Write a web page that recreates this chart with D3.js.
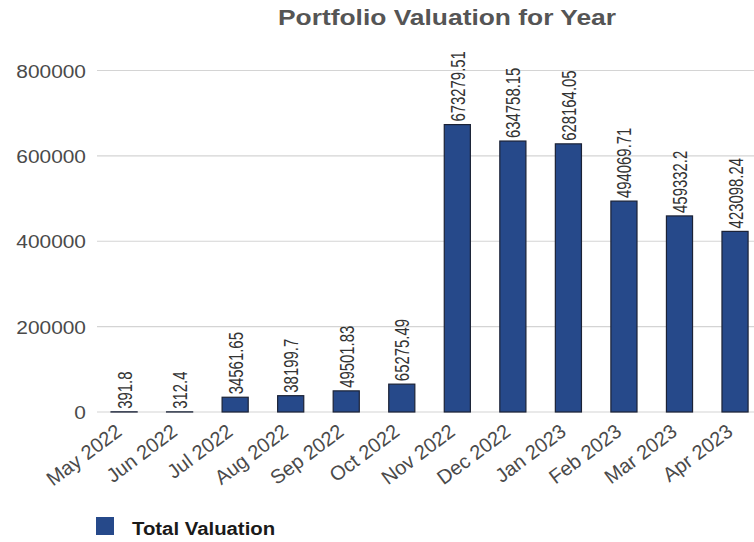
<!DOCTYPE html>
<html>
<head>
<meta charset="utf-8">
<script src="https://cdn.jsdelivr.net/npm/d3@7"></script>
<style>
  html, body { margin: 0; padding: 0; background: #fff; }
  svg { display: block; font-family: "Liberation Sans", Arial, sans-serif; }
</style>
</head>
<body>
<svg id="chart" width="754" height="542"></svg>
<script>
const categories = ["May 2022","Jun 2022","Jul 2022","Aug 2022","Sep 2022","Oct 2022","Nov 2022","Dec 2022","Jan 2023","Feb 2023","Mar 2023","Apr 2023"];
const values = [391.8, 312.4, 34561.65, 38199.7, 49501.83, 65275.49, 673279.51, 634758.15, 628164.05, 494069.71, 459332.2, 423098.24];
const valueLabels = ["391.8","312.4","34561.65","38199.7","49501.83","65275.49","673279.51","634758.15","628164.05","494069.71","459332.2","423098.24"];
const yTicks = [0, 200000, 400000, 600000, 800000];
const seriesName = "Total Valuation";
const chartTitle = "Portfolio Valuation for Year";

const svg = d3.select("#chart");

const x = d3.scaleBand()
  .domain(categories)
  .range([96.3, 762.8])
  .paddingInner(0.53)
  .paddingOuter(0.265);

const y = d3.scaleLinear()
  .domain([0, 800000])
  .range([412, 70.5]);

// gridlines
svg.append("g")
  .selectAll("line")
  .data(yTicks)
  .join("line")
  .attr("x1", 97).attr("x2", 754)
  .attr("y1", d => y(d)).attr("y2", d => y(d))
  .attr("stroke", "#d4d4d4")
  .attr("stroke-width", 1.2);

// y tick labels
svg.append("g")
  .selectAll("text")
  .data(yTicks)
  .join("text")
  .attr("transform", d => `translate(86,${y(d) + 7}) scale(1.1,1)`)
  .attr("text-anchor", "end")
  .attr("font-size", 19)
  .attr("fill", "#4a4a4a")
  .text(d => d3.format("d")(d));

// bars
svg.append("g")
  .selectAll("rect")
  .data(values)
  .join("rect")
  .attr("x", (d, i) => x(categories[i]))
  .attr("width", x.bandwidth())
  .attr("y", d => y(d))
  .attr("height", d => y(0) - y(d))
  .attr("fill", "#26498a")
  .attr("stroke", "#1b2236")
  .attr("stroke-width", 1.2);

// value labels
svg.append("g")
  .selectAll("text")
  .data(values)
  .join("text")
  .attr("transform", (d, i) => `translate(${x(categories[i]) + x.bandwidth() / 2 + 7.5},${y(d) - 3}) rotate(-90) scale(0.71,1)`)
  .attr("text-anchor", "start")
  .attr("font-size", 21)
  .attr("fill", "#333")
  .text((d, i) => valueLabels[i]);

// x tick labels
svg.append("g")
  .selectAll("text")
  .data(categories)
  .join("text")
  .attr("transform", d => `translate(${x(d) + x.bandwidth() / 2 - 1},${434}) rotate(-37)`)
  .attr("text-anchor", "end")
  .attr("font-size", 20)
  .attr("fill", "#4a4a4a")
  .text(d => d);

// title
svg.append("text")
  .attr("transform", "translate(447,25) scale(1.2,1)")
  .attr("text-anchor", "middle")
  .attr("font-size", 22)
  .attr("font-weight", "bold")
  .attr("fill", "#555")
  .text(chartTitle);

// legend
const legend = svg.append("g").attr("transform", "translate(96,517)");
legend.append("rect")
  .attr("width", 18).attr("height", 18)
  .attr("fill", "#26498a");
legend.append("text")
  .attr("transform", "translate(36,18) scale(1.1,1)")
  .attr("font-size", 18.5)
  .attr("font-weight", "bold")
  .attr("fill", "#1a1a1a")
  .text(seriesName);
</script>
</body>
</html>
